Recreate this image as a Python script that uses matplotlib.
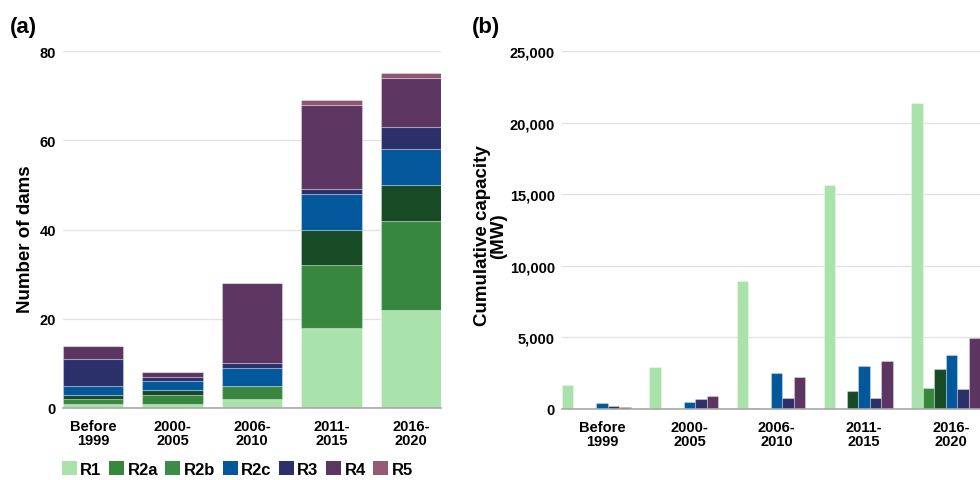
import matplotlib
matplotlib.use("Agg")
import matplotlib.pyplot as plt
from matplotlib.patches import Patch
import numpy as np

plt.rcParams["font.family"] = ["Liberation Sans", "DejaVu Sans"]
plt.rcParams["font.weight"] = "bold"

periods = ["Before\n1999", "2000-\n2005", "2006-\n2010", "2011-\n2015", "2016-\n2020"]
classes = ["R1", "R2a", "R2b", "R2c", "R3", "R4", "R5"]

# number of dams per period (stacked)
dams_r1 = [1, 1, 2, 18, 22]
dams_r2a = [1, 2, 3, 14, 20]
dams_r2b = [1, 1, 0, 8, 8]
dams_r2c = [2, 2, 4, 8, 8]
dams_r3 = [6, 1, 1, 1, 5]
dams_r4 = [3, 1, 18, 19, 11]
dams_r5 = [0, 0, 0, 1, 1]

# cumulative capacity (MW)
cap_r1 = [1700, 2950, 8950, 15650, 21350]
cap_r2a = [0, 0, 40, 0, 1480]
cap_r2b = [0, 0, 0, 1280, 2780]
cap_r2c = [420, 500, 2530, 2970, 3760]
cap_r3 = [230, 700, 800, 800, 1380]
cap_r4 = [160, 880, 2230, 3320, 4970]
cap_r5 = [0, 0, 0, 0, 0]

bar_colors = ["#a9e2ab", "#37873f", "#164b25", "#03579b", "#2b2f6a", "#5c3560", "#8e566f"]
legend_colors = ["#a9e2ab", "#37873f", "#3a8c46", "#03579b", "#2b2f6a", "#5c3560", "#955a73"]

dams = [dams_r1, dams_r2a, dams_r2b, dams_r2c, dams_r3, dams_r4, dams_r5]
caps = [cap_r1, cap_r2a, cap_r2b, cap_r2c, cap_r3, cap_r4, cap_r5]

W, H = 980, 481
fig = plt.figure(figsize=(W / 100, H / 100), dpi=100)


def px_axes(l, r, t, b):
    return fig.add_axes([l / W, (H - b) / H, (r - l) / W, (b - t) / H])


def style(ax):
    for s in ["top", "right", "left"]:
        ax.spines[s].set_visible(False)
    ax.spines["bottom"].set_color("#a8a8a8")
    ax.spines["bottom"].set_linewidth(1.2)
    ax.spines["bottom"].set_zorder(5)
    ax.yaxis.grid(True, color="#e2e2e2", linewidth=1.0)
    ax.set_axisbelow(True)
    ax.tick_params(axis="both", length=0, labelsize=10.5)
    ax.tick_params(axis="x", pad=8)
    ax.tick_params(axis="y", pad=5)
    for lab in ax.get_xticklabels() + ax.get_yticklabels():
        lab.set_fontweight("bold")


# (a) stacked bars
ax1 = px_axes(63, 441, 52, 409)
x = np.arange(len(periods))
bw = 0.755
bottom = np.zeros(len(periods))
for vals, c in zip(dams, bar_colors):
    ax1.bar(x, vals, bw, bottom=bottom, color=c, edgecolor=(1, 1, 1, 0.3), linewidth=0.8)
    bottom += np.array(vals)
ax1.set_xlim(-bw / 2, len(periods) - 1 + bw / 2)
ax1.set_ylim(0, 80)
ax1.set_yticks([0, 20, 40, 60, 80])
ax1.set_xticks(x)
ax1.set_xticklabels(periods, linespacing=0.95)
style(ax1)
ax1.set_ylabel("Number of dams", fontsize=13.5, fontweight="bold")
ax1.yaxis.set_label_coords(-0.077, 0.475)

# (b) grouped bars
ax2 = px_axes(562, 991.5, 52, 410)
gw = 0.1318
for k, (vals, c) in enumerate(zip(caps, bar_colors)):
    ax2.bar(x + k * gw, vals, gw, align="edge", color=c, edgecolor=(1, 1, 1, 0.3), linewidth=0.8)
ax2.set_xlim(0, len(periods) - 1 + 7 * gw)
ax2.set_ylim(0, 25000)
ax2.set_yticks([0, 5000, 10000, 15000, 20000, 25000])
ax2.set_yticklabels([f"{v:,}" for v in [0, 5000, 10000, 15000, 20000, 25000]])
ax2.set_xticks(x + 3.5 * gw)
ax2.set_xticklabels(periods, linespacing=0.95)
style(ax2)
ax2.set_ylabel("Cumulative capacity\n(MW)", fontsize=13.5, fontweight="bold", linespacing=0.9)
ax2.yaxis.set_label_coords(-0.128, 0.486)

fig.text(10 / W, 1 - 27 / H, "(a)", fontsize=16, fontweight="bold", va="center", ha="left")
fig.text(472 / W, 1 - 27 / H, "(b)", fontsize=16, fontweight="bold", va="center", ha="left")

handles = [Patch(facecolor=c, edgecolor="none") for c in legend_colors]
fig.legend(handles, classes, loc="center left", bbox_to_anchor=(62 / W, 1 - 470 / H),
           ncol=7, frameon=False, borderpad=0, borderaxespad=0,
           prop={"size": 12, "weight": "bold"}, handlelength=0.9, handleheight=0.9,
           handletextpad=0.2, columnspacing=0.45)

fig.savefig("out.png", dpi=100)
